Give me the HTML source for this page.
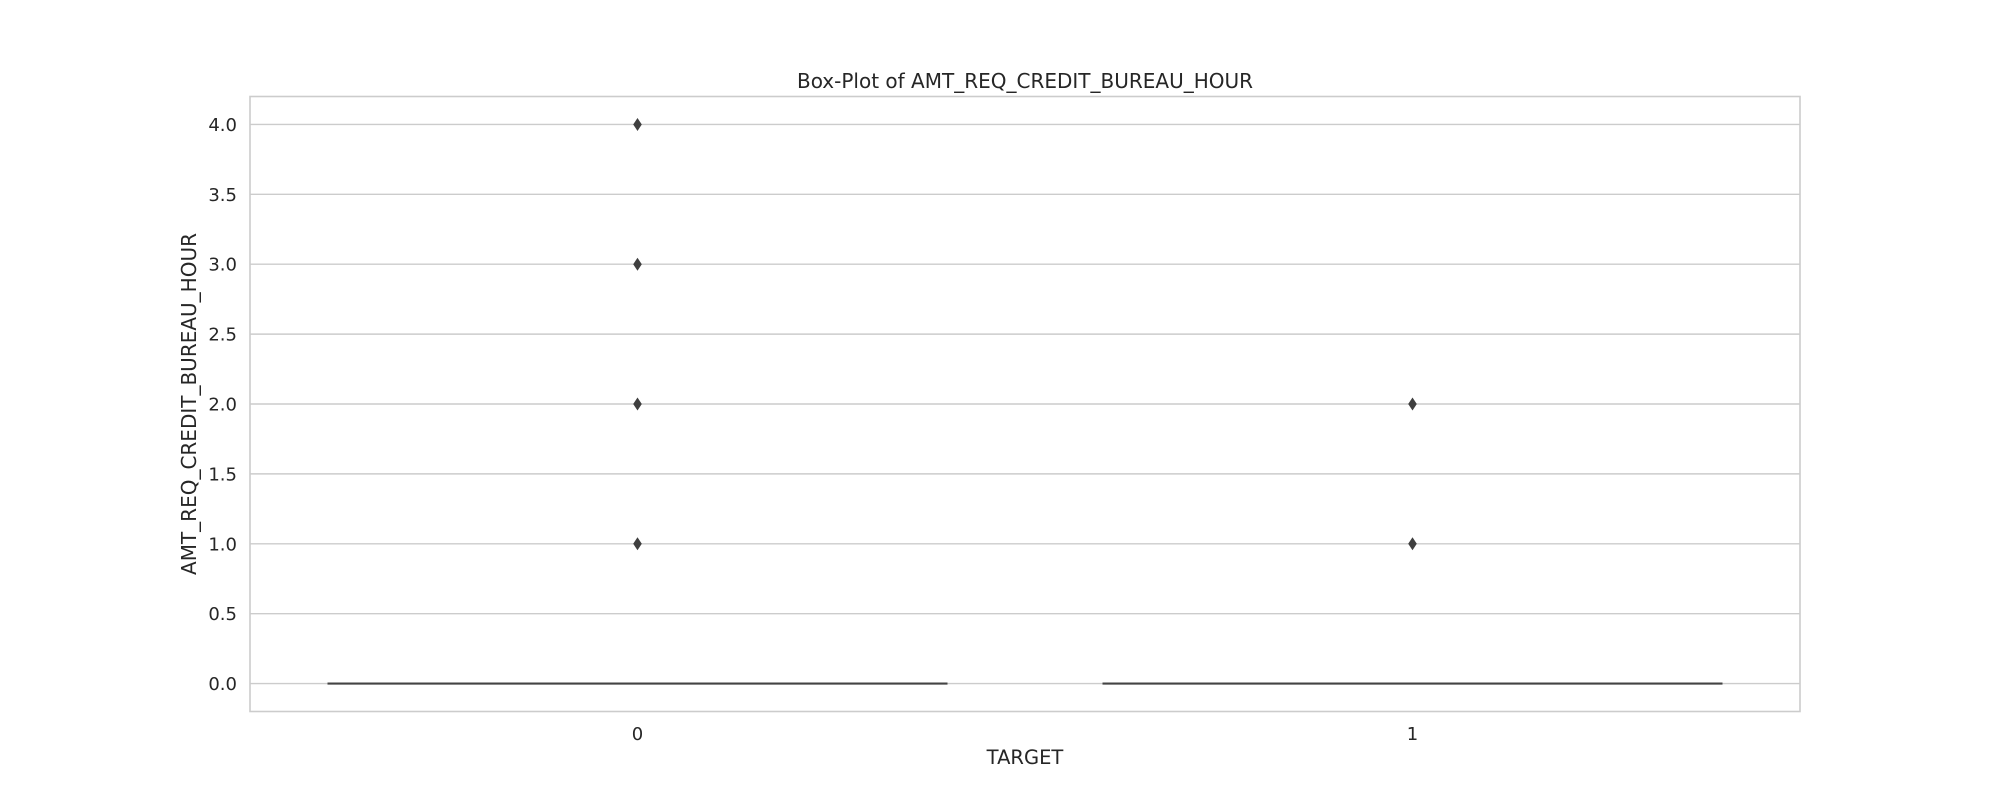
<!DOCTYPE html>
<html><head><meta charset="utf-8"><style>
body{margin:0;background:#fff}
svg{display:block;font-family:"DejaVu Sans","Liberation Sans",sans-serif}
</style></head><body>
<svg id="c" width="2000" height="800">
<rect x="0" y="0" width="2000" height="800" fill="#fff"/>
<g id="grid"></g>
<g id="marks"></g>
<rect x="250" y="96.5" width="1550" height="615" fill="none" stroke="#cccccc" stroke-width="1.6"/>
<text x="1025" y="88" text-anchor="middle" font-size="20" fill="#262626">Box-Plot of AMT_REQ_CREDIT_BUREAU_HOUR</text>
<text x="1025" y="764" text-anchor="middle" font-size="19.5" fill="#262626">TARGET</text>
<text transform="translate(196,404) rotate(-90)" text-anchor="middle" font-size="20" fill="#262626">AMT_REQ_CREDIT_BUREAU_HOUR</text>
</svg>
<script>
const categories=["0","1"];
const yTicks=[0,0.5,1,1.5,2,2.5,3,3.5,4];
const yTickLabels=["0.0","0.5","1.0","1.5","2.0","2.5","3.0","3.5","4.0"];
const medians=[0,0];
const q1=[0,0];
const q3=[0,0];
const outliers0=[1,2,3,4];
const outliers1=[1,2];
const outliers=[outliers0,outliers1];
const NS="http://www.w3.org/2000/svg";
const L=250,R=1800,T=96.5,B=711.5,ymin=-0.2,ymax=4.2;
function y(v){return B-(v-ymin)/(ymax-ymin)*(B-T);}
function x(i){return L+(i+0.5)/categories.length*(R-L);}
const bw=0.8*(R-L)/categories.length;
function mk(tag,attrs,parent){const e=document.createElementNS(NS,tag);for(const k in attrs)e.setAttribute(k,attrs[k]);parent.appendChild(e);return e;}
const grid=document.getElementById('grid'),marks=document.getElementById('marks');
yTicks.forEach((v,i)=>{
  const l=mk('line',{x1:L,x2:R,y1:y(v),y2:y(v),stroke:'#cccccc','stroke-width':1.4},grid);
  
  
  const t=mk('text',{x:L-13,y:y(v)+6.5,'text-anchor':'end','font-size':18,fill:'#262626'},grid);
  t.textContent=yTickLabels[i];
  
  
});
categories.forEach((c,i)=>{
  const t=mk('text',{x:x(i),y:740,'text-anchor':'middle','font-size':18,fill:'#262626'},grid);
  t.textContent=c;
  
  
  const box=mk('rect',{x:x(i)-bw/2,y:y(q3[i]),width:bw,height:Math.max(0,y(q1[i])-y(q3[i])),fill:'#4c72b0',stroke:'#3f3f3f','stroke-width':2},marks);
  
  
  const m=mk('line',{x1:x(i)-bw/2,x2:x(i)+bw/2,y1:y(medians[i]),y2:y(medians[i]),stroke:'#444444','stroke-width':2.2},marks);
  
  
  outliers[i].forEach(v=>{
    const cx=x(i),cy=y(v);
    const p=mk('polygon',{points:`${cx},${cy-6.5} ${cx+4.3},${cy} ${cx},${cy+6.5} ${cx-4.3},${cy}`,fill:'#3f3f3f'},marks);
    
    
  });
});
</script>
</body></html>
